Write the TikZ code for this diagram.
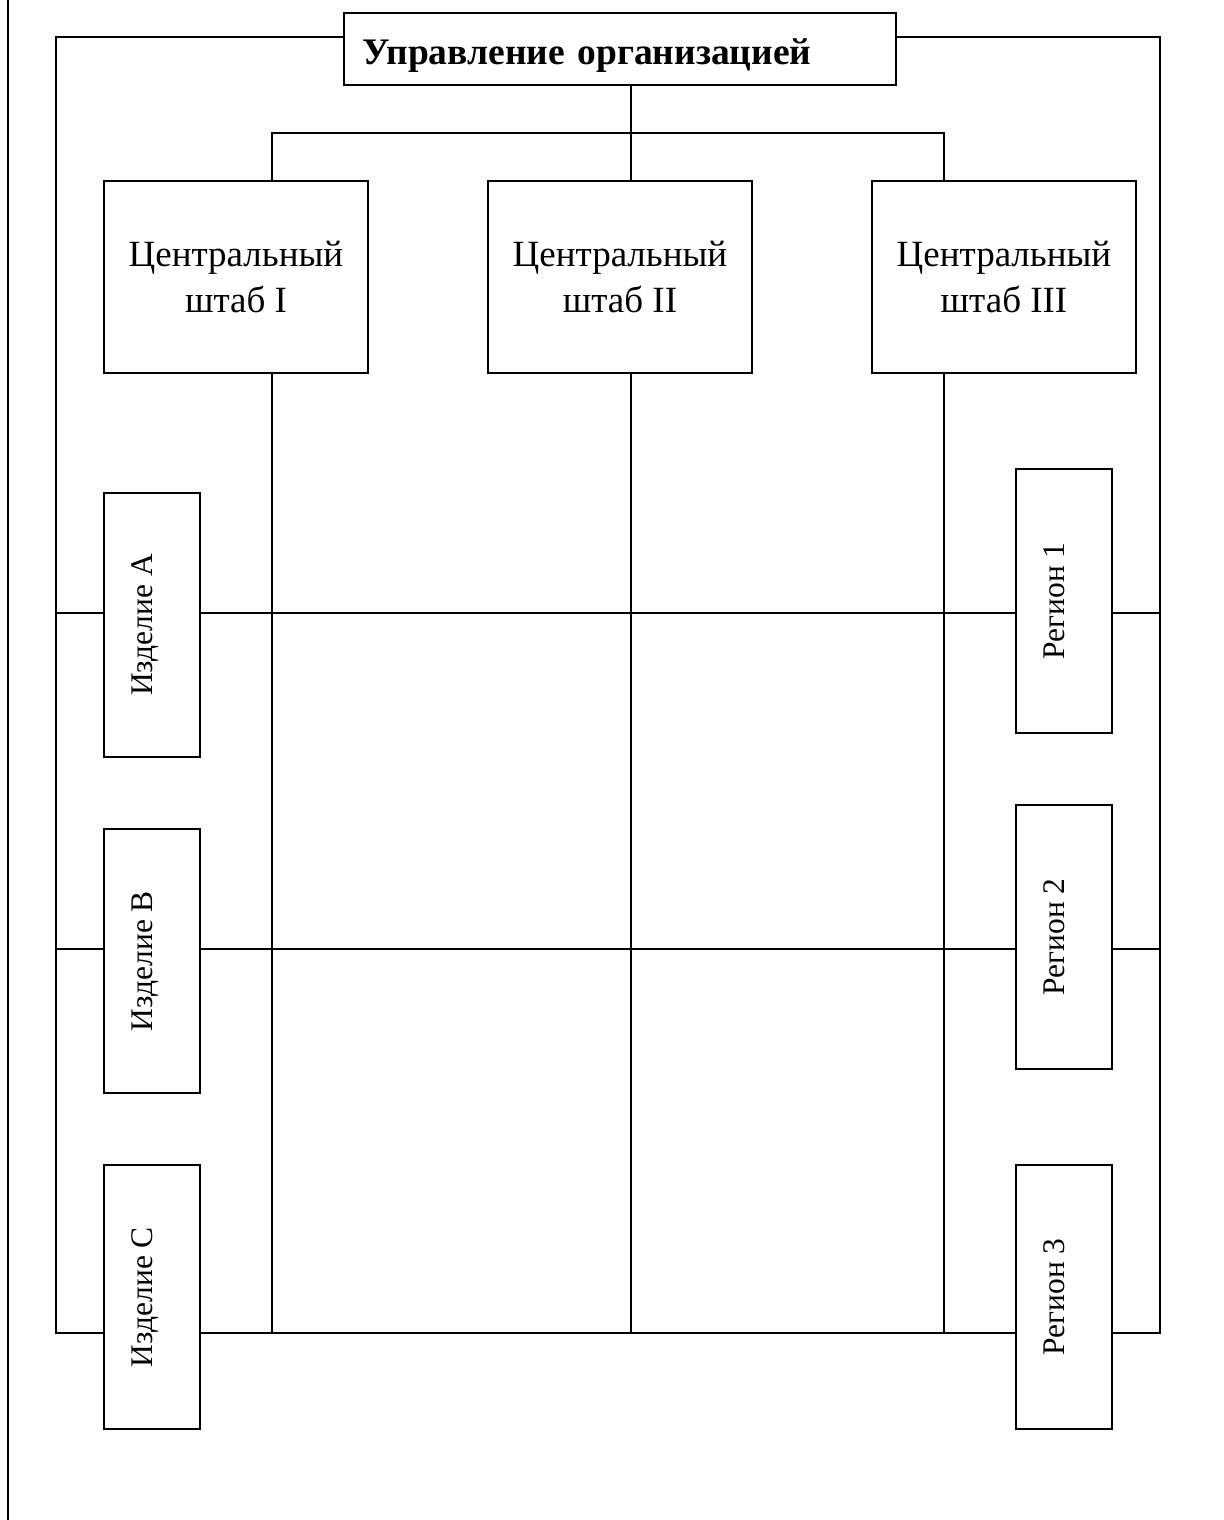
\documentclass[tikz,border=0pt]{standalone}
\usepackage{fontspec}
\setmainfont{Liberation Serif}
\usetikzlibrary{backgrounds}
\begin{document}
\begin{tikzpicture}[x=1pt,y=-1pt,
  box/.style={draw,line width=2pt,fill=white,inner sep=0pt,align=center},
  headbox/.style={box,minimum width=264pt,minimum height=192pt,
    font=\fontsize{37}{46}\selectfont},
  sidebox/.style={box,rotate=90,minimum width=264pt,minimum height=96pt,
    text height=9pt,text depth=9pt,font=\fontsize{31.5}{38}\selectfont},
  link/.style={line width=2pt}]
\useasboundingbox (0,0) rectangle (1223,1520);

% management box
\node[box,font=\bfseries\fontsize{37.5}{45}\selectfont,minimum width=552pt,
  minimum height=72pt,text width=516pt,align=left,
  text height=34pt,text depth=4pt] (top) at (620,49)
  {Управление организацией};

% central headquarters
\node[headbox] (cI)   at (236,277)  {Центральный\\штаб I};
\node[headbox] (cII)  at (620,277)  {Центральный\\штаб II};
\node[headbox] (cIII) at (1004,277) {Центральный\\штаб III};

% products
\node[sidebox] (pA) at (152,625)  {Изделие А};
\node[sidebox] (pB) at (152,961)  {Изделие В};
\node[sidebox] (pC) at (152,1297) {Изделие С};

% regions
\node[sidebox] (rg1) at (1064,601)  {Регион 1};
\node[sidebox] (rg2) at (1064,937)  {Регион 2};
\node[sidebox] (rg3) at (1064,1297) {Регион 3};

% grid reference points
\coordinate (tl) at (56,37);
\coordinate (tr) at (1160,37);
\coordinate (bl) at (56,1333);
\coordinate (br) at (1160,1333);
\coordinate (k1)  at (272,133);
\coordinate (hub) at (631,133);
\coordinate (k3)  at (944,133);
\coordinate (row1w) at (56,613);
\coordinate (row1e) at (1160,613);
\coordinate (row2w) at (56,949);
\coordinate (row2e) at (1160,949);
\coordinate (pgtop) at (7.5,0);
\coordinate (pgbot) at (7.5,1520);

\begin{scope}[on background layer]
  % page rule
  \draw[link] (pgtop) -- (pgbot);
  % outer frame from the management box
  \draw[link] (top.west |- tl) -| (bl) -- (br) |- (top.east |- tr);
  % tree to the headquarters
  \draw[link] (top.south -| hub) -- (hub);
  \draw[link] (k1 |- cI.north) -- (k1) -- (k3) -- (k3 |- cIII.north);
  \draw[link] (hub) -- (hub |- cII.north);
  % matrix columns
  \draw[link] (k1 |- cI.south) -- (k1 |- bl);
  \draw[link] (hub |- cII.south) -- (hub |- bl);
  \draw[link] (k3 |- cIII.south) -- (k3 |- bl);
  % matrix rows
  \draw[link] (row1w) -- (row1e);
  \draw[link] (row2w) -- (row2e);
\end{scope}
\end{tikzpicture}
\end{document}
